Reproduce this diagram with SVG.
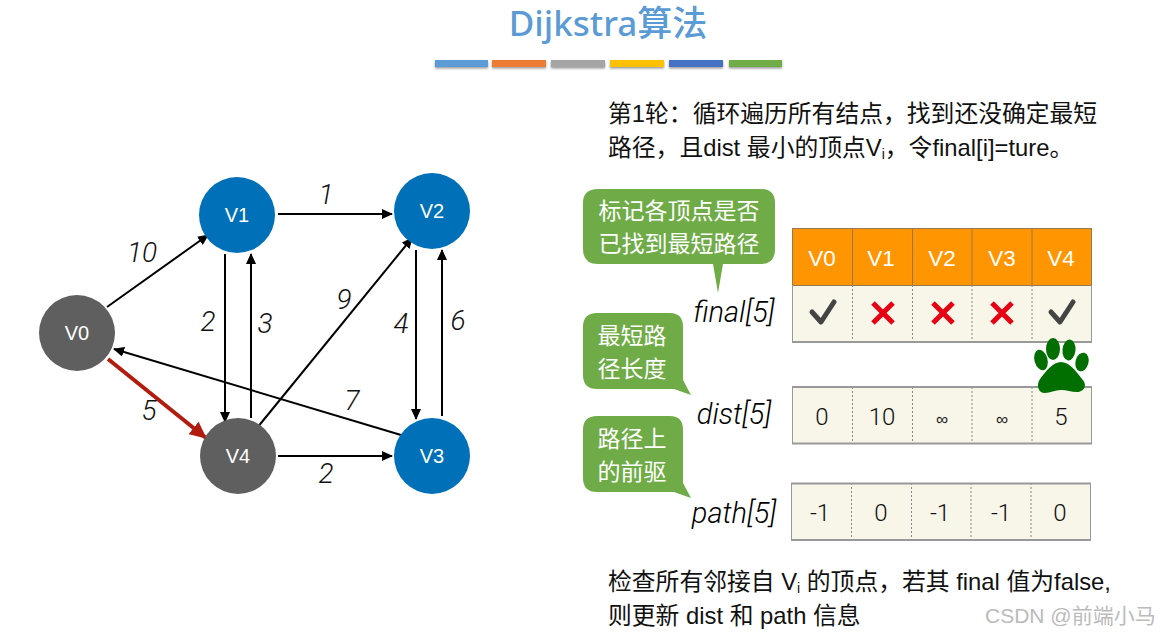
<svg xmlns="http://www.w3.org/2000/svg" width="1165" height="637" viewBox="0 0 1165 637">
<style>
text{font-family:"Liberation Sans","Noto Sans CJK SC",sans-serif}
.nl{font-size:20px;fill:#fff;text-anchor:middle}
.w{font-family:Roboto,"Liberation Sans",sans-serif;font-weight:300;font-size:28px;font-style:italic;fill:#111;text-anchor:middle}
.e{fill:none;stroke:#000;stroke-width:2;marker-end:url(#a)}
.t{font-size:23.8px;fill:#111}
.h{font-size:22.5px;fill:#fff;text-anchor:middle}
.c{font-family:Roboto,"Liberation Sans",sans-serif;font-weight:300;font-size:24px;fill:#111;text-anchor:middle}
.inf{font-family:"Liberation Sans",sans-serif;font-size:17px;fill:#222;text-anchor:middle}
.lab{font-family:Roboto,"Liberation Sans",sans-serif;font-weight:300;font-size:29px;font-style:italic;fill:#000;text-anchor:middle}
.b{font-size:23px;fill:#fff;text-anchor:middle}
.bg{fill:#6fac47}
.cell{fill:#f8f5e9}
.dash{stroke:#888;stroke-width:1;stroke-dasharray:2 2}
.rule{fill:none;stroke:#999;stroke-width:2}
.x{stroke:#e60012;stroke-width:5;fill:none}
.ck{fill:none;stroke:#444;stroke-width:5;stroke-linejoin:round;stroke-linecap:round}
</style>
<defs>
<marker id="a" markerWidth="12" markerHeight="10" refX="10" refY="5" orient="auto" markerUnits="userSpaceOnUse"><path d="M0 0L11 5L0 10z" fill="#000"/></marker>
<marker id="r" markerWidth="20" markerHeight="16" refX="16" refY="8" orient="auto" markerUnits="userSpaceOnUse"><path d="M0 0L17 8L0 16z" fill="#b21c0e"/></marker>
<filter id="s" x="-10%" y="-50%" width="120%" height="250%"><feDropShadow dx="0" dy="1.500" stdDeviation="1" flood-color="#000" flood-opacity=".4"/></filter>
</defs>
<g id="title">
<text x="608" y="36" font-size="35" fill="#5b9bd5" text-anchor="middle" style="font-family:'Noto Sans','Noto Sans CJK SC',sans-serif;font-weight:500">Dijkstra算法</text>
<g filter="url(#s)">
<rect x="435" y="60" width="53" height="7" fill="#5b9bd5"/>
<rect x="492" y="60" width="54" height="7" fill="#ed7d31"/>
<rect x="551" y="60" width="54" height="7" fill="#a5a5a5"/>
<rect x="610" y="60" width="54" height="7" fill="#ffc000"/>
<rect x="669" y="60" width="54" height="7" fill="#4472c4"/>
<rect x="729" y="60" width="53" height="7" fill="#70ad47"/>
</g>
</g>
<g id="connectors">
<path class="e" d="M107 307L208 235"/>
<path class="e" d="M278 214L392 214"/>
<path class="e" d="M225 254L225 422"/>
<path class="e" d="M251 418L251 254"/>
<path class="e" d="M257 428L412 238"/>
<path class="e" d="M416 250L416 419"/>
<path class="e" d="M442 416L442 250"/>
<path class="e" d="M401 435L114 349"/>
<path class="e" d="M278 456L392 456"/>
<path d="M108 359L206 438" fill="none" stroke="#b21c0e" stroke-width="4" marker-end="url(#r)"/>
</g>
<g id="edge-labels">
<text class="w" x="142" y="262">10</text>
<text class="w" x="326" y="204">1</text>
<text class="w" x="208" y="331">2</text>
<text class="w" x="265" y="333">3</text>
<text class="w" x="344" y="309">9</text>
<text class="w" x="401" y="333">4</text>
<text class="w" x="458" y="330">6</text>
<text class="w" x="352" y="410">7</text>
<text class="w" x="149" y="420">5</text>
<text class="w" x="326" y="483">2</text>
</g>
<g id="V0"><circle cx="77" cy="333" r="38" fill="#5f5f5f"/><text class="nl" x="77" y="340">V0</text></g>
<g id="V1"><circle cx="237" cy="215" r="38" fill="#0070b8"/><text class="nl" x="237" y="222">V1</text></g>
<g id="V2"><circle cx="432" cy="211" r="38" fill="#0070b8"/><text class="nl" x="432" y="218">V2</text></g>
<g id="V3"><circle cx="432" cy="456" r="38" fill="#0070b8"/><text class="nl" x="432" y="463">V3</text></g>
<g id="V4"><circle cx="238" cy="456" r="38" fill="#5f5f5f"/><text class="nl" x="238" y="463">V4</text></g>
<g id="captions">
<text class="t" x="608" y="122">第1轮：循环遍历所有结点，找到还没确定最短</text>
<text class="t" x="608" y="156">路径，且dist 最小的顶点V<tspan font-size="14" dy="3">i</tspan><tspan dy="-3">，令final[i]=ture。</tspan></text>
<text class="t" x="608" y="590">检查所有邻接自 V<tspan font-size="14" dy="3">i</tspan><tspan dy="-3"> 的顶点，若其 final 值为false,</tspan></text>
<text class="t" x="608" y="624">则更新 dist 和 path 信息</text>
</g>
<g id="table-final">
<rect x="792" y="228" width="300" height="57" fill="#ff9500"/>
<rect class="cell" x="792" y="285" width="300" height="57"/>
<path d="M852.500 228V285M912.500 228V285M972 228V285M1032 228V285M792.500 228V285M1091.500 228V285M792 228.500H1092M792 285.500H1092" stroke="#98784f" stroke-width="1" fill="none"/>
<path class="dash" d="M852.500 285V342M912.500 285V342M972 285V342M1032 285V342"/>
<path d="M792.500 285V342M1091.500 285V342" stroke="#999" fill="none"/>
<path class="rule" d="M792 342H1092"/>
<text class="h" x="822" y="266">V0</text><text class="h" x="881" y="266">V1</text><text class="h" x="942" y="266">V2</text><text class="h" x="1002" y="266">V3</text><text class="h" x="1061" y="266">V4</text>
<path class="ck" d="M812 312L821 322L834 302"/>
<path class="ck" d="M1051 312L1060 322L1073 302"/>
<path class="x" d="M873 303L893 323M893 303L873 323"/>
<path class="x" d="M933 303L953 323M953 303L933 323"/>
<path class="x" d="M992 303L1012 323M1012 303L992 323"/>
</g>
<g id="table-dist">
<rect class="cell" x="792" y="387" width="300" height="57"/>
<path class="dash" d="M852.500 387V444M912.500 387V444M972 387V444M1032 387V444"/>
<path d="M792.500 387V444M1091.500 387V444" stroke="#999" fill="none"/>
<path class="rule" d="M792 387H1092M792 443.500H1092"/>
<text class="c" x="822" y="425">0</text><text class="c" x="882" y="425">10</text><text class="inf" x="942" y="425">∞</text><text class="inf" x="1002" y="425">∞</text><text class="c" x="1061" y="425">5</text>
</g>
<g id="table-path">
<rect class="cell" x="791" y="483" width="300" height="57"/>
<path class="dash" d="M851.500 483V540M911.500 483V540M971 483V540M1031 483V540"/>
<path d="M791.500 483V540M1090.500 483V540" stroke="#999" fill="none"/>
<path class="rule" d="M791 483.500H1091M791 540H1091"/>
<text class="c" x="820" y="521">-1</text><text class="c" x="881" y="521">0</text><text class="c" x="940" y="521">-1</text><text class="c" x="1001" y="521">-1</text><text class="c" x="1060" y="521">0</text>
</g>
<g id="paw" fill="#006f00">
<ellipse cx="1053" cy="349" rx="7" ry="11"/>
<ellipse cx="1069" cy="350" rx="6.500" ry="10.500" transform="rotate(5 1069 350)"/>
<ellipse cx="1041" cy="360" rx="6.500" ry="10.500" transform="rotate(-15 1041 360)"/>
<ellipse cx="1082" cy="362" rx="6.500" ry="9.500" transform="rotate(14 1082 362)"/>
<path d="M1061 362C1069 362 1076 371 1082 379C1088 385 1084 392 1077 392C1071 392 1067 390 1061 390C1055 390 1050 393 1045 393C1038 393 1036 385 1040 379C1046 371 1053 362 1061 362z"/>
</g>
<g id="labels">
<text class="lab" x="734" y="322">final[5]</text>
<text class="lab" x="734" y="424">dist[5]</text>
<text class="lab" x="734" y="523">path[5]</text>
</g>
<g id="bubble-final">
<path class="bg" d="M598 189H761Q775 189 775 203V249Q775 264 761 264H723L718 293L713 264H598Q583 264 583 249V203Q583 189 598 189z"/>
<text class="b" x="679" y="219">标记各顶点是否</text><text class="b" x="679" y="252">已找到最短路径</text>
</g>
<g id="bubble-dist">
<path class="bg" d="M597 313H670Q683 313 683 327V380L691 395L674 389H597Q583 389 583 375V327Q583 313 597 313z"/>
<text class="b" x="632" y="344">最短路</text><text class="b" x="632" y="377">径长度</text>
</g>
<g id="bubble-path">
<path class="bg" d="M597 416H670Q683 416 683 430V483L691 498L674 492H597Q583 492 583 478V430Q583 416 597 416z"/>
<text class="b" x="632" y="447">路径上</text><text class="b" x="632" y="480">的前驱</text>
</g>
<text x="985" y="623" font-size="21" fill="#bbb">CSDN @前端小马</text>
</svg>
